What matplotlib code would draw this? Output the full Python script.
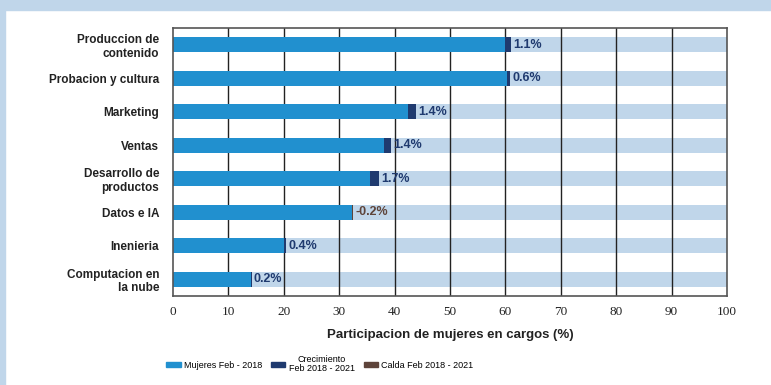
import matplotlib

matplotlib.use("Agg")
import matplotlib.pyplot as plt
from matplotlib.patches import Patch, Rectangle

categories = [
    "Produccion de\ncontenido",
    "Probacion y cultura",
    "Marketing",
    "Ventas",
    "Desarrollo de\nproductos",
    "Datos e IA",
    "Inenieria",
    "Computacion en\nla nube",
]
base_2018 = [60.0, 60.3, 42.5, 38.0, 35.5, 32.5, 20.0, 14.0]
change_2021 = [1.1, 0.6, 1.4, 1.4, 1.7, -0.2, 0.4, 0.2]
x_ticks = [0, 10, 20, 30, 40, 50, 60, 70, 80, 90, 100]

MAIN = "#2190cf"
LIGHT = "#c0d6ea"
NAVY = "#1f3a6f"
BROWN = "#5e443a"

plt.rcParams["font.family"] = ["Liberation Sans", "DejaVu Sans"]

fig = plt.figure(figsize=(7.71, 3.85), dpi=100)
fig.patches.append(Rectangle((0, 1 - 10 / 385), 1, 10 / 385, transform=fig.transFigure,
                             color=LIGHT, zorder=0))
fig.patches.append(Rectangle((0, 0), 5 / 771, 1, transform=fig.transFigure,
                             color=LIGHT, zorder=0))

ax = fig.add_axes([173 / 771, 1 - 296 / 385, (727 - 173) / 771, (296 - 28) / 385])
ypos = list(range(len(categories)))
h = 0.46

ax.barh(ypos, [100] * len(ypos), height=h, color=LIGHT, zorder=1)
for x in x_ticks[1:-1]:
    ax.axvline(x, color="#222222", lw=1, zorder=1.5)
ax.barh(ypos, base_2018, height=h, color=MAIN, zorder=2)

for y, b, c in zip(ypos, base_2018, change_2021):
    if c >= 0:
        ax.barh(y, c, left=b, height=h, color=NAVY, zorder=3)
        end, col = b + c, NAVY
    else:
        ax.barh(y, -c, left=b + c, height=h, color=BROWN, zorder=3)
        end, col = b, BROWN
    ax.text(end + 0.4, y, f"{c:.1f}%", va="center", ha="left", fontsize=9,
            fontweight="bold", color=col, zorder=4)

ax.set_xlim(0, 100)
ax.set_ylim(len(categories) - 0.5, -0.5)
ax.set_yticks(ypos)
ax.set_yticklabels(categories, fontsize=8.5, fontweight="bold", color="#222222",
                   linespacing=1.15, multialignment="right")
ax.set_xticks(x_ticks)
ax.set_xticklabels([str(t) for t in x_ticks], fontsize=9.5, family="Liberation Serif",
                   color="#222222")
ax.tick_params(length=0, pad=7)
ax.tick_params(axis="y", pad=10)
for s in ax.spines.values():
    s.set_color("#555555")
    s.set_linewidth(1.2)
ax.set_xlabel("Participacion de mujeres en cargos (%)", fontsize=9.5, fontweight="bold",
              color="#222222", labelpad=8)

handles = [
    Patch(color=MAIN, label="Mujeres Feb - 2018"),
    Patch(color=NAVY, label="Crecimiento\nFeb 2018 - 2021"),
    Patch(color=BROWN, label="Calda Feb 2018 - 2021"),
]
leg = fig.legend(handles=handles, loc="center left", bbox_to_anchor=(158 / 771, 1 - 364 / 385),
                 ncol=3, frameon=False, fontsize=6.5, handlelength=1.6, handleheight=0.55,
                 handletextpad=0.35, columnspacing=1.0, labelspacing=0.1)
for t in leg.get_texts():
    t.set_multialignment("center")
    t.set_linespacing(1.0)

fig.savefig("out.png", dpi=100)
